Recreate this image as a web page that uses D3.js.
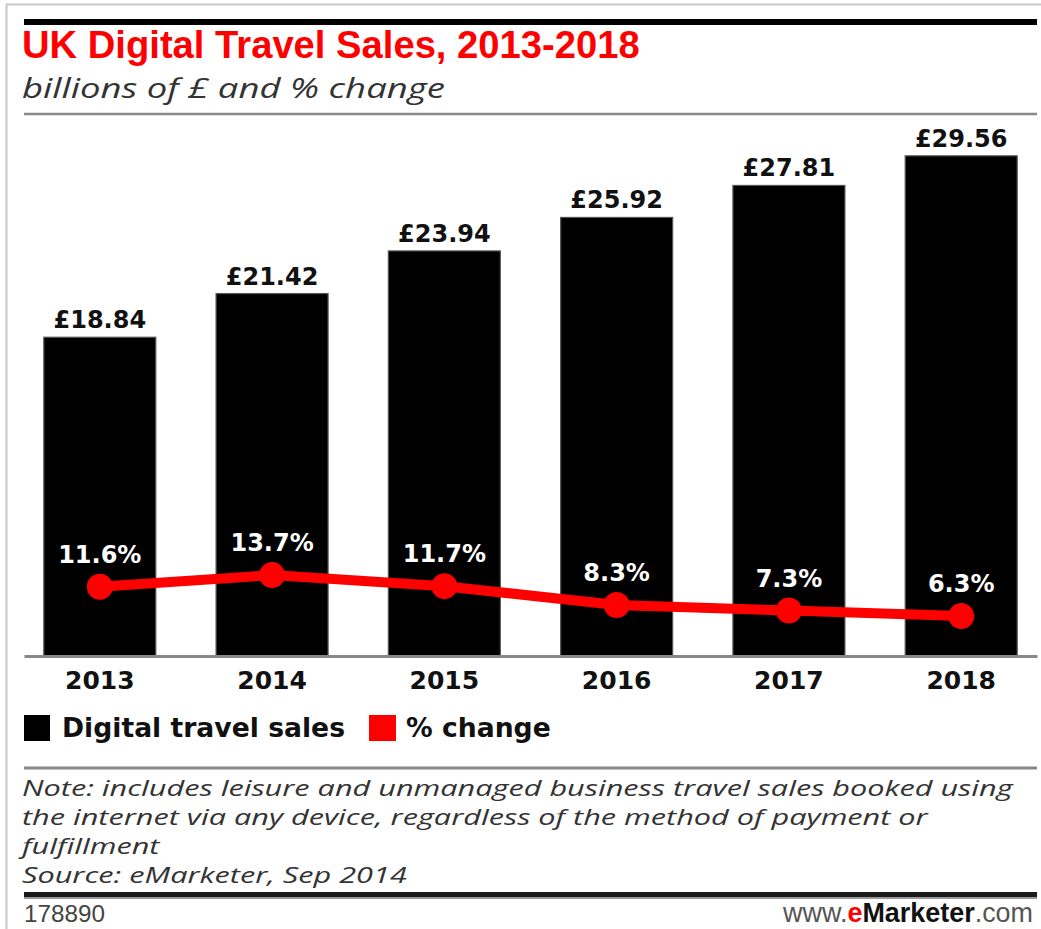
<!DOCTYPE html>
<html>
<head>
<meta charset="utf-8">
<script src="https://cdn.jsdelivr.net/npm/d3@7"></script>
<style>
  html, body { margin: 0; padding: 0; background: #fff; }
  svg { display: block; }
</style>
</head>
<body>
<script>
// ---- data ----
const years = ["2013", "2014", "2015", "2016", "2017", "2018"];
const sales = [18.84, 21.42, 23.94, 25.92, 27.81, 29.56];
const pctChange = [11.6, 13.7, 11.7, 8.3, 7.3, 6.3];
const salesLabels = ["£18.84", "£21.42", "£23.94", "£25.92", "£27.81", "£29.56"];
const pctLabels = ["11.6%", "13.7%", "11.7%", "8.3%", "7.3%", "6.3%"];
const titleText = "UK Digital Travel Sales, 2013-2018";
const subtitleText = "billions of £ and % change";
const legendItems = ["Digital travel sales", "% change"];
const noteLines = [
  "Note: includes leisure and unmanaged business travel sales booked using",
  "the internet via any device, regardless of the method of payment or",
  "fulfillment",
  "Source: eMarketer, Sep 2014"
];
const chartId = "178890";

// ---- setup ----
const W = 1041, H = 929;
const svg = d3.select("body").append("svg").attr("width", W).attr("height", H);
svg.append("rect").attr("width", W).attr("height", H).attr("fill", "#fff");

const L = 24, R = 1037;

function fit(sel, targetW) {
  const node = sel.node();
  const fs = parseFloat(sel.attr("font-size"));
  const w = node.getComputedTextLength();
  if (w > 0) sel.attr("font-size", (fs * targetW / w).toFixed(2));
  return parseFloat(sel.attr("font-size"));
}

// outer frame
svg.append("line").attr("x1", 6.5).attr("x2", 6.5).attr("y1", 4).attr("y2", H).attr("stroke", "#c8c8c8").attr("stroke-width", 2);
svg.append("line").attr("x1", 6).attr("x2", W).attr("y1", 4.5).attr("y2", 4.5).attr("stroke", "#c8c8c8").attr("stroke-width", 2);

// top rule
svg.append("rect").attr("x", L).attr("y", 19).attr("width", R - L).attr("height", 6).attr("fill", "#000");

// title
const title = svg.append("text").attr("x", 22).attr("y", 58)
  .attr("font-family", "'Liberation Sans', Arial, sans-serif").attr("font-weight", "bold")
  .attr("font-size", 30).attr("fill", "#f00").text(titleText);
fit(title, 618);

// subtitle: moderate font size, stretched horizontally to the reference width
const subG = svg.append("g");
const sub = subG.append("text").attr("x", 0).attr("y", 98)
  .attr("font-family", "'Open Sans', sans-serif").attr("font-style", "italic")
  .attr("font-size", 27).attr("fill", "#333").text(subtitleText);
const sw = sub.node().getComputedTextLength();
subG.attr("transform", `translate(22,0) scale(${(sw > 0 ? 423 / sw : 1).toFixed(4)},1)`);

svg.append("line").attr("x1", L).attr("x2", R).attr("y1", 114).attr("y2", 114).attr("stroke", "#888").attr("stroke-width", 2.5);

// ---- scales ----
const x = d3.scaleBand().domain(years).range([L, R]).paddingInner(0.35).paddingOuter(0.115);
const y = d3.scaleLinear().domain([0, 30]).range([656, 148.4]);
const yPct = d3.scaleLinear().domain([0, 20]).range([651, 540.2]);

const boldFont = "'DejaVu Sans', sans-serif";

// bars
svg.append("g").selectAll("rect").data(years).join("rect")
  .attr("x", d => x(d))
  .attr("y", (d, i) => y(sales[i]))
  .attr("width", x.bandwidth())
  .attr("height", (d, i) => y(0) - y(sales[i]))
  .attr("fill", "#000")
  .attr("stroke", "#555").attr("stroke-width", 1.2);

// value labels
svg.append("g").selectAll("text").data(years).join("text")
  .attr("x", d => x(d) + x.bandwidth() / 2)
  .attr("y", (d, i) => y(sales[i]) - 9)
  .attr("text-anchor", "middle")
  .attr("font-family", boldFont).attr("font-weight", "bold").attr("font-size", 24)
  .attr("fill", "#111")
  .text((d, i) => salesLabels[i]);

// axis line + year labels
const xAxis = d3.axisBottom(x).tickSize(0).tickPadding(0);
const ax = svg.append("g").attr("transform", `translate(0,${y(0)})`).call(xAxis);
ax.select(".domain").attr("stroke", "#888").attr("stroke-width", 3);
ax.selectAll(".tick text")
  .attr("font-family", boldFont).attr("font-weight", "bold").attr("font-size", 25)
  .attr("fill", "#111").attr("dy", null).attr("y", 33);

// line
const line = d3.line().x((d, i) => x(years[i]) + x.bandwidth() / 2).y(d => yPct(d));
svg.append("path").datum(pctChange).attr("d", line)
  .attr("fill", "none").attr("stroke", "#f00").attr("stroke-width", 10).attr("stroke-linejoin", "round");
svg.append("g").selectAll("circle").data(pctChange).join("circle")
  .attr("cx", (d, i) => x(years[i]) + x.bandwidth() / 2)
  .attr("cy", d => yPct(d))
  .attr("r", 13).attr("fill", "#f00");
svg.append("g").selectAll("text").data(pctChange).join("text")
  .attr("x", (d, i) => x(years[i]) + x.bandwidth() / 2)
  .attr("y", d => yPct(d) - 24)
  .attr("text-anchor", "middle")
  .attr("font-family", boldFont).attr("font-weight", "bold").attr("font-size", 24)
  .attr("fill", "#fff")
  .text((d, i) => pctLabels[i]);

// legend
svg.append("rect").attr("x", 24).attr("y", 715).attr("width", 26).attr("height", 26).attr("fill", "#000");
const lg1 = svg.append("text").attr("x", 62).attr("y", 737)
  .attr("font-family", boldFont).attr("font-weight", "bold").attr("font-size", 25).attr("fill", "#111")
  .text(legendItems[0]);
const lfs = fit(lg1, 283);
svg.append("rect").attr("x", 369).attr("y", 715).attr("width", 27).attr("height", 26).attr("fill", "#f00");
svg.append("text").attr("x", 406).attr("y", 737)
  .attr("font-family", boldFont).attr("font-weight", "bold").attr("font-size", lfs).attr("fill", "#111")
  .text(legendItems[1]);

svg.append("line").attr("x1", L).attr("x2", R).attr("y1", 768).attr("y2", 768).attr("stroke", "#888").attr("stroke-width", 3);

// notes (font kept small enough for 29px line spacing, stretched horizontally to match width)
const noteG = svg.append("g");
const noteTexts = noteLines.map((t, i) => noteG.append("text").attr("x", 0).attr("y", 796 + 29 * i)
  .attr("font-family", "'Open Sans', sans-serif").attr("font-style", "italic")
  .attr("font-size", 21).attr("fill", "#333").text(t));
const nw = noteTexts[0].node().getComputedTextLength();
const sx = nw > 0 ? 991 / nw : 1;
noteG.attr("transform", `translate(22,0) scale(${sx.toFixed(4)},1)`);

// footer
svg.append("rect").attr("x", L).attr("y", 892).attr("width", R - L).attr("height", 5).attr("fill", "#1a1a1a");
svg.append("rect").attr("x", L).attr("y", 897).attr("width", R - L).attr("height", 2).attr("fill", "#999");

const idt = svg.append("text").attr("x", 24).attr("y", 922)
  .attr("font-family", "'Liberation Sans', Arial, sans-serif").attr("font-size", 20).attr("fill", "#444").text(chartId);
fit(idt, 81);

const brand = svg.append("text").attr("x", 1033).attr("y", 922).attr("text-anchor", "end")
  .attr("font-family", "'Liberation Sans', Arial, sans-serif").attr("font-size", 22).attr("fill", "#555");
brand.append("tspan").text("www.");
brand.append("tspan").attr("fill", "#f00").attr("font-weight", "bold").text("e");
brand.append("tspan").attr("fill", "#111").attr("font-weight", "bold").text("Marketer");
brand.append("tspan").text(".com");
fit(brand, 250);
</script>
</body>
</html>
